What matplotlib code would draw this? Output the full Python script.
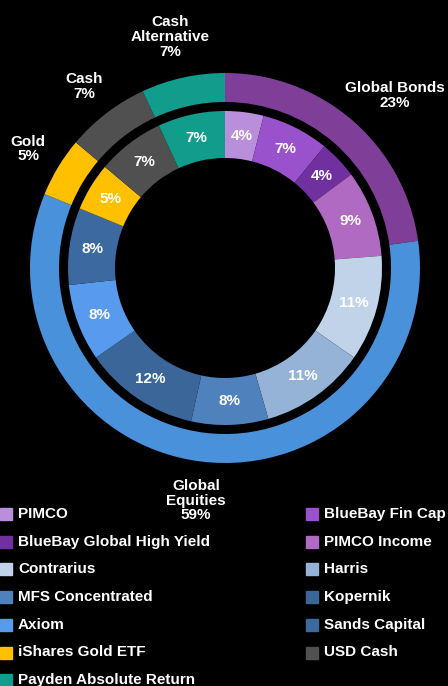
import matplotlib.pyplot as plt
from matplotlib.patches import Rectangle

plt.rcParams['font.family'] = ['Liberation Sans', 'DejaVu Sans']

# outer ring: asset classes
outer_labels = ["Global Bonds", "Global\nEquities", "Gold", "Cash", "Cash\nAlternative"]
outer_values = [23, 59, 5, 7, 7]
outer_colors = ["#7F3F98", "#4A91DB", "#FFC000", "#505050", "#119C8C"]

# inner ring: managers / funds
inner_labels = ["PIMCO", "BlueBay Fin Cap", "BlueBay Global High Yield", "PIMCO Income",
                "Contrarius", "Harris", "MFS Concentrated", "Kopernik", "Axiom",
                "Sands Capital", "iShares Gold ETF", "USD Cash", "Payden Absolute Return"]
inner_values = [4, 7, 4, 9, 11, 11, 8, 12, 8, 8, 5, 7, 7]
inner_colors = ["#B98FDB", "#9A52CC", "#7030A0", "#B06AC2", "#C0D3E8", "#95B3D7",
                "#4F81BD", "#3B6699", "#589BEE", "#3C6AA0", "#FFC000", "#505050", "#119C8C"]

W, H = 448, 686
fig = plt.figure(figsize=(W / 100, H / 100), dpi=100, facecolor="black")
ax = fig.add_axes([0, 0, 1, 1])
ax.set_facecolor("black")
ax.axis("off")

cx, cy = 225, H - 268

ax.pie(outer_values, colors=outer_colors, radius=195, center=(cx, cy),
       startangle=90, counterclock=False, wedgeprops=dict(width=29, linewidth=0))

inner_total = sum(inner_values)
ax.pie(inner_values, colors=inner_colors, radius=157, center=(cx, cy),
       startangle=90, counterclock=False, wedgeprops=dict(width=47, linewidth=0),
       autopct=lambda p: f"{p * inner_total / 100:.0f}%", pctdistance=0.85,
       textprops=dict(color="white", fontsize=11, fontweight="bold"))
ax.set_xlim(0, W)
ax.set_ylim(0, H)
ax.set_aspect("equal")

# outer labels, placed by hand around the ring
label_pos = [(395, 95.5), (196, 500.5), (28, 149), (84, 86.5), (170, 37)]
for name, val, (x, y) in zip(outer_labels, outer_values, label_pos):
    ax.text(x, H - y, f"{name}\n{val}%", color="white", fontsize=11, fontweight="bold",
            ha="center", va="center", linespacing=1.05)

# legend, two columns in row order
for i, (name, col) in enumerate(zip(inner_labels, inner_colors)):
    r, c = divmod(i, 2)
    x0 = 0 if c == 0 else 306
    yc = H - (514 + 27.7 * r)
    ax.add_patch(Rectangle((x0, yc - 6), 12, 12, color=col, clip_on=False))
    ax.text(x0 + 18, yc, name, color="white", fontsize=11, fontweight="bold",
            ha="left", va="center")

fig.savefig("out.png", dpi=100, facecolor="black")
